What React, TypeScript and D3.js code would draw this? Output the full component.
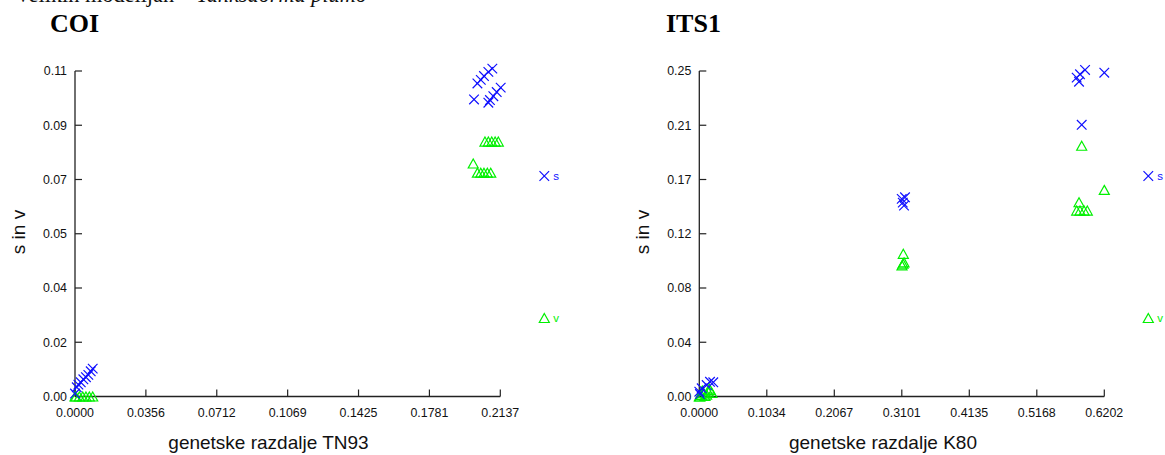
import React from "react";
import * as d3 from "d3";

// ---------- data ----------
const coiXTicks = ["0.0000", "0.0356", "0.0712", "0.1069", "0.1425", "0.1781", "0.2137"];
const coiYTicks = ["0.00", "0.02", "0.04", "0.05", "0.07", "0.09", "0.11"];
const coiXMax = 0.2137;
const coiYMax = 0.1098;

const coiS: [number, number][] = [
  [0.0, 0.001], [0.0009, 0.0031], [0.0017, 0.004], [0.0029, 0.0048], [0.0042, 0.0058],
  [0.0055, 0.0065], [0.0067, 0.0073], [0.0079, 0.0085], [0.0089, 0.0094],
  [0.2097, 0.1106], [0.2077, 0.1095], [0.2055, 0.1081], [0.2039, 0.1068], [0.2022, 0.1056],
  [0.2005, 0.1002], [0.2139, 0.1042], [0.2119, 0.1027], [0.2102, 0.1013], [0.2085, 0.1],
  [0.2077, 0.0991],
];
const coiV: [number, number][] = [
  [0.0, 0.0], [0.0005, 0.0], [0.0022, 0.0], [0.0039, 0.0], [0.0055, 0.0], [0.0072, 0.0], [0.0089, 0.0],
  [0.206, 0.086], [0.2077, 0.086], [0.2094, 0.086], [0.2111, 0.086], [0.2127, 0.086],
  [0.2001, 0.0786], [0.2022, 0.0755], [0.2039, 0.0755], [0.2055, 0.0755], [0.2072, 0.0755], [0.2089, 0.0755],
];

const itsXTicks = ["0.0000", "0.1034", "0.2067", "0.3101", "0.4135", "0.5168", "0.6202"];
const itsYTicks = ["0.00", "0.04", "0.08", "0.12", "0.17", "0.21", "0.25"];
const itsXMax = 0.6202;
const itsYMax = 0.25;

const itsS: [number, number][] = [
  [0.001, 0.0019], [0.0037, 0.0063], [0.0, 0.0037], [0.0113, 0.0088], [0.0164, 0.0113], [0.0214, 0.0109],
  [0.31, 0.1518], [0.315, 0.153], [0.3135, 0.1466], [0.3116, 0.1489],
  [0.5907, 0.2508], [0.583, 0.2475], [0.5779, 0.2449], [0.5815, 0.2418], [0.6202, 0.2487],
  [0.5856, 0.2087],
];
const itsV: [number, number][] = [
  [0.0, 0.0], [0.001, 0.0], [0.0061, 0.0025], [0.0138, 0.0037], [0.0164, 0.005], [0.0087, 0.0004],
  [0.0194, 0.0027], [0.0031, 0.0012], [0.0112, 0.0015], [0.0153, 0.0061], [0.0046, 0.0046],
  [0.3124, 0.1096], [0.312, 0.102], [0.3104, 0.1007], [0.3135, 0.103],
  [0.5856, 0.1926], [0.6202, 0.1587], [0.5815, 0.1492], [0.5779, 0.1428], [0.583, 0.1428],
  [0.5892, 0.1428], [0.5942, 0.1428],
];

const BLUE = "#1010ff";
const GREEN = "#00f000";
const SANS = "'Liberation Sans', Arial, sans-serif";
const SERIF = "'Liberation Serif', 'Times New Roman', serif";

function Cross({ x, y }: { x: number; y: number }) {
  const r = 4.8;
  return (
    <path
      d={`M${x - r},${y - r}L${x + r},${y + r}M${x - r},${y + r}L${x + r},${y - r}`}
      stroke={BLUE}
      strokeWidth={1.2}
      fill="none"
    />
  );
}

function Tri({ x, y }: { x: number; y: number }) {
  const w = 5, h = 9;
  return (
    <path
      d={`M${x},${y - h / 2}L${x + w},${y + h / 2}L${x - w},${y + h / 2}Z`}
      stroke={GREEN}
      strokeWidth={1.2}
      fill="none"
    />
  );
}

type PanelProps = {
  title: string;
  titleX: number;
  x0: number;
  x1: number;
  xMax: number;
  yMax: number;
  xTicks: string[];
  yTicks: string[];
  s: [number, number][];
  v: [number, number][];
  xTitle: string;
  xTitleX: number;
  yTitleX: number;
};

function Panel(p: PanelProps) {
  const y0 = 396.5;
  const y1 = 71;
  const xs = d3.scaleLinear().domain([0, p.xMax]).range([p.x0, p.x1]);
  const ys = d3.scaleLinear().domain([0, p.yMax]).range([y0, y1]);
  const n = p.xTicks.length - 1;
  const m = p.yTicks.length - 1;
  const legX = p.x1 + 44;
  return (
    <g>
      <text x={p.titleX} y={32} fontFamily={SERIF} fontWeight="bold" fontSize={26} fill="#000">
        {p.title}
      </text>
      {/* axes */}
      <line x1={p.x0} y1={y0} x2={p.x1} y2={y0} stroke="#222" strokeWidth={1.3} />
      <line x1={p.x0} y1={y0} x2={p.x0} y2={y1} stroke="#222" strokeWidth={1.3} />
      {p.xTicks.map((t, i) => {
        const x = xs((i * p.xMax) / n);
        return (
          <g key={"xt" + i}>
            <line x1={x} y1={y0} x2={x} y2={y0 - 7} stroke="#222" strokeWidth={1.2} />
            <text x={x} y={417} textAnchor="middle" fontFamily={SANS} fontSize={12.4} fill="#111">
              {t}
            </text>
          </g>
        );
      })}
      {p.yTicks.map((t, i) => {
        const y = ys((i * p.yMax) / m);
        return (
          <g key={"yt" + i}>
            <line x1={p.x0} y1={y} x2={p.x0 + 7} y2={y} stroke="#222" strokeWidth={1.2} />
            <text x={p.x0 - 8} y={y + 4.3} textAnchor="end" fontFamily={SANS} fontSize={12.4} fill="#111">
              {t}
            </text>
          </g>
        );
      })}
      <text x={p.xTitleX} y={449} textAnchor="middle" fontFamily={SANS} fontSize={19} fill="#111">
        {p.xTitle}
      </text>
      <text
        transform={`translate(${p.yTitleX},232) rotate(-90)`}
        textAnchor="middle"
        fontFamily={SANS}
        fontSize={19}
        fill="#111"
      >
        s in v
      </text>
      {p.v.map((d, i) => (
        <Tri key={"v" + i} x={xs(d[0])} y={ys(d[1])} />
      ))}
      {p.s.map((d, i) => (
        <Cross key={"s" + i} x={xs(d[0])} y={ys(d[1])} />
      ))}
      {/* legend */}
      <Cross x={legX} y={176} />
      <text x={legX + 9} y={180} fontFamily={SANS} fontSize={11.5} fill={BLUE}>
        s
      </text>
      <Tri x={legX} y={318} />
      <text x={legX + 9} y={322} fontFamily={SANS} fontSize={11.5} fill={GREEN}>
        v
      </text>
    </g>
  );
}

export default function App() {
  return (
    <svg
      width={1165}
      height={455}
      style={{ position: "absolute", left: 0, top: 0, background: "#fff" }}
    >
      <text
        x={15}
        y={1.5}
        fontFamily={SERIF}
        fontSize={24}
        fill="#111"
        textLength={352}
        lengthAdjust="spacingAndGlyphs"
      >
        Velikih modelijah –{" "}
        <tspan fontStyle="italic">Tanksdorma plumo</tspan>
      </text>
      <Panel
        title="COI"
        titleX={50}
        x0={75}
        x1={500.3}
        xMax={coiXMax}
        yMax={coiYMax}
        xTicks={coiXTicks}
        yTicks={coiYTicks}
        s={coiS}
        v={coiV}
        xTitle="genetske razdalje TN93"
        xTitleX={268.5}
        yTitleX={25}
      />
      <Panel
        title="ITS1"
        titleX={666}
        x0={699.3}
        x1={1104.3}
        xMax={itsXMax}
        yMax={itsYMax}
        xTicks={itsXTicks}
        yTicks={itsYTicks}
        s={itsS}
        v={itsV}
        xTitle="genetske razdalje K80"
        xTitleX={883}
        yTitleX={649}
      />
    </svg>
  );
}
